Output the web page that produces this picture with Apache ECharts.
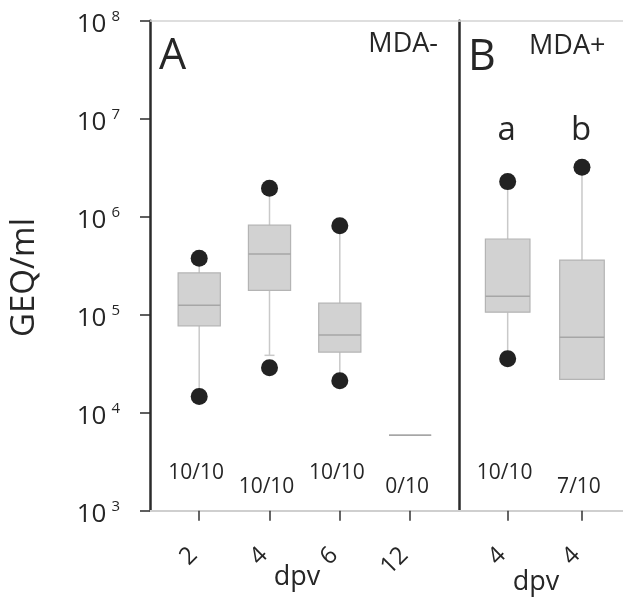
<!DOCTYPE html>
<html>
<head>
<meta charset="utf-8">
<script src="https://cdn.jsdelivr.net/npm/echarts@6/dist/echarts.min.js"></script>
<style>
  html, body { margin: 0; padding: 0; background: #fff; }
  #chart { width: 623px; height: 599px; }
</style>
</head>
<body>
<div id="chart"></div>
<script>
// panel A: MDA-, panel B: MDA+
const catsA = ['2', '4', '6', '12'];
const catsB = ['4', '4'];
const countsA = ['10/10', '10/10', '10/10', '0/10'];
const countsB = ['10/10', '7/10'];
const lettersB = ['a', 'b'];
// [index, whisker low, Q1, median, Q3, whisker high]
const boxA = [
  [0, 1.71e4, 7.7e4, 1.25e5, 2.67e5, 3.4e5],
  [1, 3.85e4, 1.77e5, 4.16e5, 8.2e5, 1.71e6],
  [2, 2.43e4, 4.16e4, 6.2e4, 1.31e5, 7.0e5],
  [3, 5.9e3, 5.9e3, 5.9e3, 5.9e3, 5.9e3]
];
const boxB = [
  [0, 4.16e4, 1.06e5, 1.54e5, 5.92e5, 1.96e6],
  [1, 2.19e4, 2.19e4, 5.88e4, 3.61e5, 2.79e6]
];
// outliers [index, value]
const dotsA = [[0, 3.77e5], [0, 1.46e4], [1, 1.95e6], [1, 2.88e4], [2, 8.1e5], [2, 2.12e4]];
const dotsB = [[0, 2.28e6], [0, 3.56e4], [1, 3.19e6]];

const FONT = 'Open Sans';
const TEXT = '#262626';

const chart = echarts.init(document.getElementById('chart'));

function boxRenderer(counts, letters) {
  return function (params, api) {
    const x = api.value(0);
    const w = api.size([1, 0], [x, 1e4])[0] * 0.6;
    const lo = api.coord([x, api.value(1)]);
    const q1 = api.coord([x, api.value(2)]);
    const md = api.coord([x, api.value(3)]);
    const q3 = api.coord([x, api.value(4)]);
    const hi = api.coord([x, api.value(5)]);
    const cx = lo[0];
    const bottom = api.coord([x, 1e3])[1];
    const top = api.coord([x, 1e8])[1];
    const wStyle = { stroke: '#c9c9c9', lineWidth: 1.5 };
    const children = [];
    if (lo[1] - q1[1] > 0.5) {
      children.push({ type: 'line', shape: { x1: cx, y1: q1[1], x2: cx, y2: lo[1] }, style: wStyle });
      children.push({ type: 'line', shape: { x1: cx - 5, y1: lo[1], x2: cx + 5, y2: lo[1] }, style: wStyle });
    }
    if (q3[1] - hi[1] > 0.5) {
      children.push({ type: 'line', shape: { x1: cx, y1: q3[1], x2: cx, y2: hi[1] }, style: wStyle });
      children.push({ type: 'line', shape: { x1: cx - 5, y1: hi[1], x2: cx + 5, y2: hi[1] }, style: wStyle });
    }
    children.push({
      type: 'rect',
      shape: { x: cx - w / 2, y: q3[1], width: w, height: q1[1] - q3[1] },
      style: { fill: '#d2d2d2', stroke: '#b4b4b4', lineWidth: 1.2 }
    });
    children.push({
      type: 'line',
      shape: { x1: cx - w / 2, y1: md[1], x2: cx + w / 2, y2: md[1] },
      style: { stroke: '#a6a6a6', lineWidth: 1.5 }
    });
    // n positive / n total, staggered
    children.push({
      type: 'text',
      style: {
        text: counts[params.dataIndex], x: cx - 3,
        y: bottom - (params.dataIndex % 2 ? 24 : 38),
        fontFamily: FONT, fontSize: 21, fill: TEXT, align: 'center', verticalAlign: 'middle'
      }
    });
    if (letters) {
      children.push({
        type: 'text',
        style: {
          text: letters[params.dataIndex], x: cx - 1, y: top + 110,
          fontFamily: FONT, fontSize: 33, fill: TEXT, align: 'center', verticalAlign: 'middle'
        }
      });
    }
    return { type: 'group', children };
  };
}

const yLabel = {
  show: true,
  margin: 30,
  formatter: v => '{b|10}{s|' + Math.round(Math.log10(v)) + '}',
  rich: {
    b: { fontFamily: FONT, fontSize: 26, color: TEXT, padding: [7, 0, 0, 0] },
    s: { fontFamily: FONT, fontSize: 15, color: TEXT, verticalAlign: 'top', padding: [5, 0, 0, 5] }
  }
};

function xLabel(cats) {
  return {
    show: true,
    customValues: cats.map((c, i) => i),
    formatter: v => cats[v],
    rotate: 45,
    margin: 35,
    padding: [0, 8, 0, 0],
    fontFamily: FONT,
    fontSize: 24,
    color: TEXT
  };
}

function bottomAxis(grid, min, max, cats) {
  return {
    gridIndex: grid, type: 'value', min: min, max: max, position: 'bottom',
    splitLine: { show: false },
    axisLine: { onZero: false, lineStyle: { color: '#cfcfcf', width: 2 } },
    axisTick: { show: true, customValues: cats.map((c, i) => i), length: 10, lineStyle: { color: '#333', width: 1.5 } },
    axisLabel: xLabel(cats)
  };
}

function topAxis(grid, min, max) {
  return {
    gridIndex: grid, type: 'value', min: min, max: max, position: 'top',
    splitLine: { show: false }, axisTick: { show: false }, axisLabel: { show: false },
    axisLine: { onZero: false, lineStyle: { color: '#d4d4d4', width: 1.5 } }
  };
}

const option = {
  animation: false,
  grid: [
    { left: 150, top: 20.7, width: 309.3, bottom: 88.3 },
    { left: 459.3, top: 20.7, right: 0, bottom: 88.3 }
  ],
  xAxis: [
    bottomAxis(0, -0.7, 3.7, catsA),
    topAxis(0, -0.7, 3.7),
    bottomAxis(1, -0.651, 1.552, catsB),
    topAxis(1, -0.651, 1.552)
  ],
  yAxis: [
    {
      gridIndex: 0, type: 'log', logBase: 10, min: 1e3, max: 1e8,
      splitLine: { show: false }, minorTick: { show: false },
      axisLine: { show: true, onZero: false, lineStyle: { color: '#2b2b2b', width: 2.5 } },
      axisTick: { show: true, length: 10, lineStyle: { color: '#2b2b2b', width: 1.5 } },
      axisLabel: yLabel
    },
    {
      gridIndex: 1, type: 'log', logBase: 10, min: 1e3, max: 1e8,
      splitLine: { show: false }, axisTick: { show: false }, axisLabel: { show: false },
      axisLine: { show: true, onZero: false, lineStyle: { color: '#2b2b2b', width: 2.5 } }
    }
  ],
  series: [
    {
      type: 'custom', xAxisIndex: 0, yAxisIndex: 0,
      renderItem: boxRenderer(countsA, null),
      encode: { x: 0, y: [1, 2, 3, 4, 5] },
      data: boxA
    },
    {
      type: 'custom', xAxisIndex: 2, yAxisIndex: 1,
      renderItem: boxRenderer(countsB, lettersB),
      encode: { x: 0, y: [1, 2, 3, 4, 5] },
      data: boxB
    },
    {
      type: 'scatter', xAxisIndex: 0, yAxisIndex: 0, symbolSize: 17, z: 5,
      itemStyle: { color: '#222', opacity: 1 }, data: dotsA
    },
    {
      type: 'scatter', xAxisIndex: 2, yAxisIndex: 1, symbolSize: 17, z: 5,
      itemStyle: { color: '#222', opacity: 1 }, data: dotsB
    }
  ],
  graphic: [
    { type: 'text', x: 25, y: 277.5, rotation: Math.PI / 2,
      style: { text: 'GEQ/ml', fontFamily: FONT, fontSize: 33, fill: TEXT, align: 'center', verticalAlign: 'middle' } },
    { type: 'text', x: 159, y: 56.6,
      style: { text: 'A', fontFamily: FONT, fontSize: 43, fill: TEXT, align: 'left', verticalAlign: 'middle' } },
    { type: 'text', x: 468, y: 57.3,
      style: { text: 'B', fontFamily: FONT, fontSize: 43, fill: TEXT, align: 'left', verticalAlign: 'middle' } },
    { type: 'text', x: 438, y: 44.5,
      style: { text: 'MDA-', fontFamily: FONT, fontSize: 27, fill: TEXT, align: 'right', verticalAlign: 'middle' } },
    { type: 'text', x: 529, y: 46.8,
      style: { text: 'MDA+', fontFamily: FONT, fontSize: 27, fill: TEXT, align: 'left', verticalAlign: 'middle' } },
    { type: 'text', x: 297, y: 577,
      style: { text: 'dpv', fontFamily: FONT, fontSize: 27, fill: TEXT, align: 'center', verticalAlign: 'middle' } },
    { type: 'text', x: 536, y: 582.5,
      style: { text: 'dpv', fontFamily: FONT, fontSize: 27, fill: TEXT, align: 'center', verticalAlign: 'middle' } }
  ]
};

chart.setOption(option);
</script>
</body>
</html>
